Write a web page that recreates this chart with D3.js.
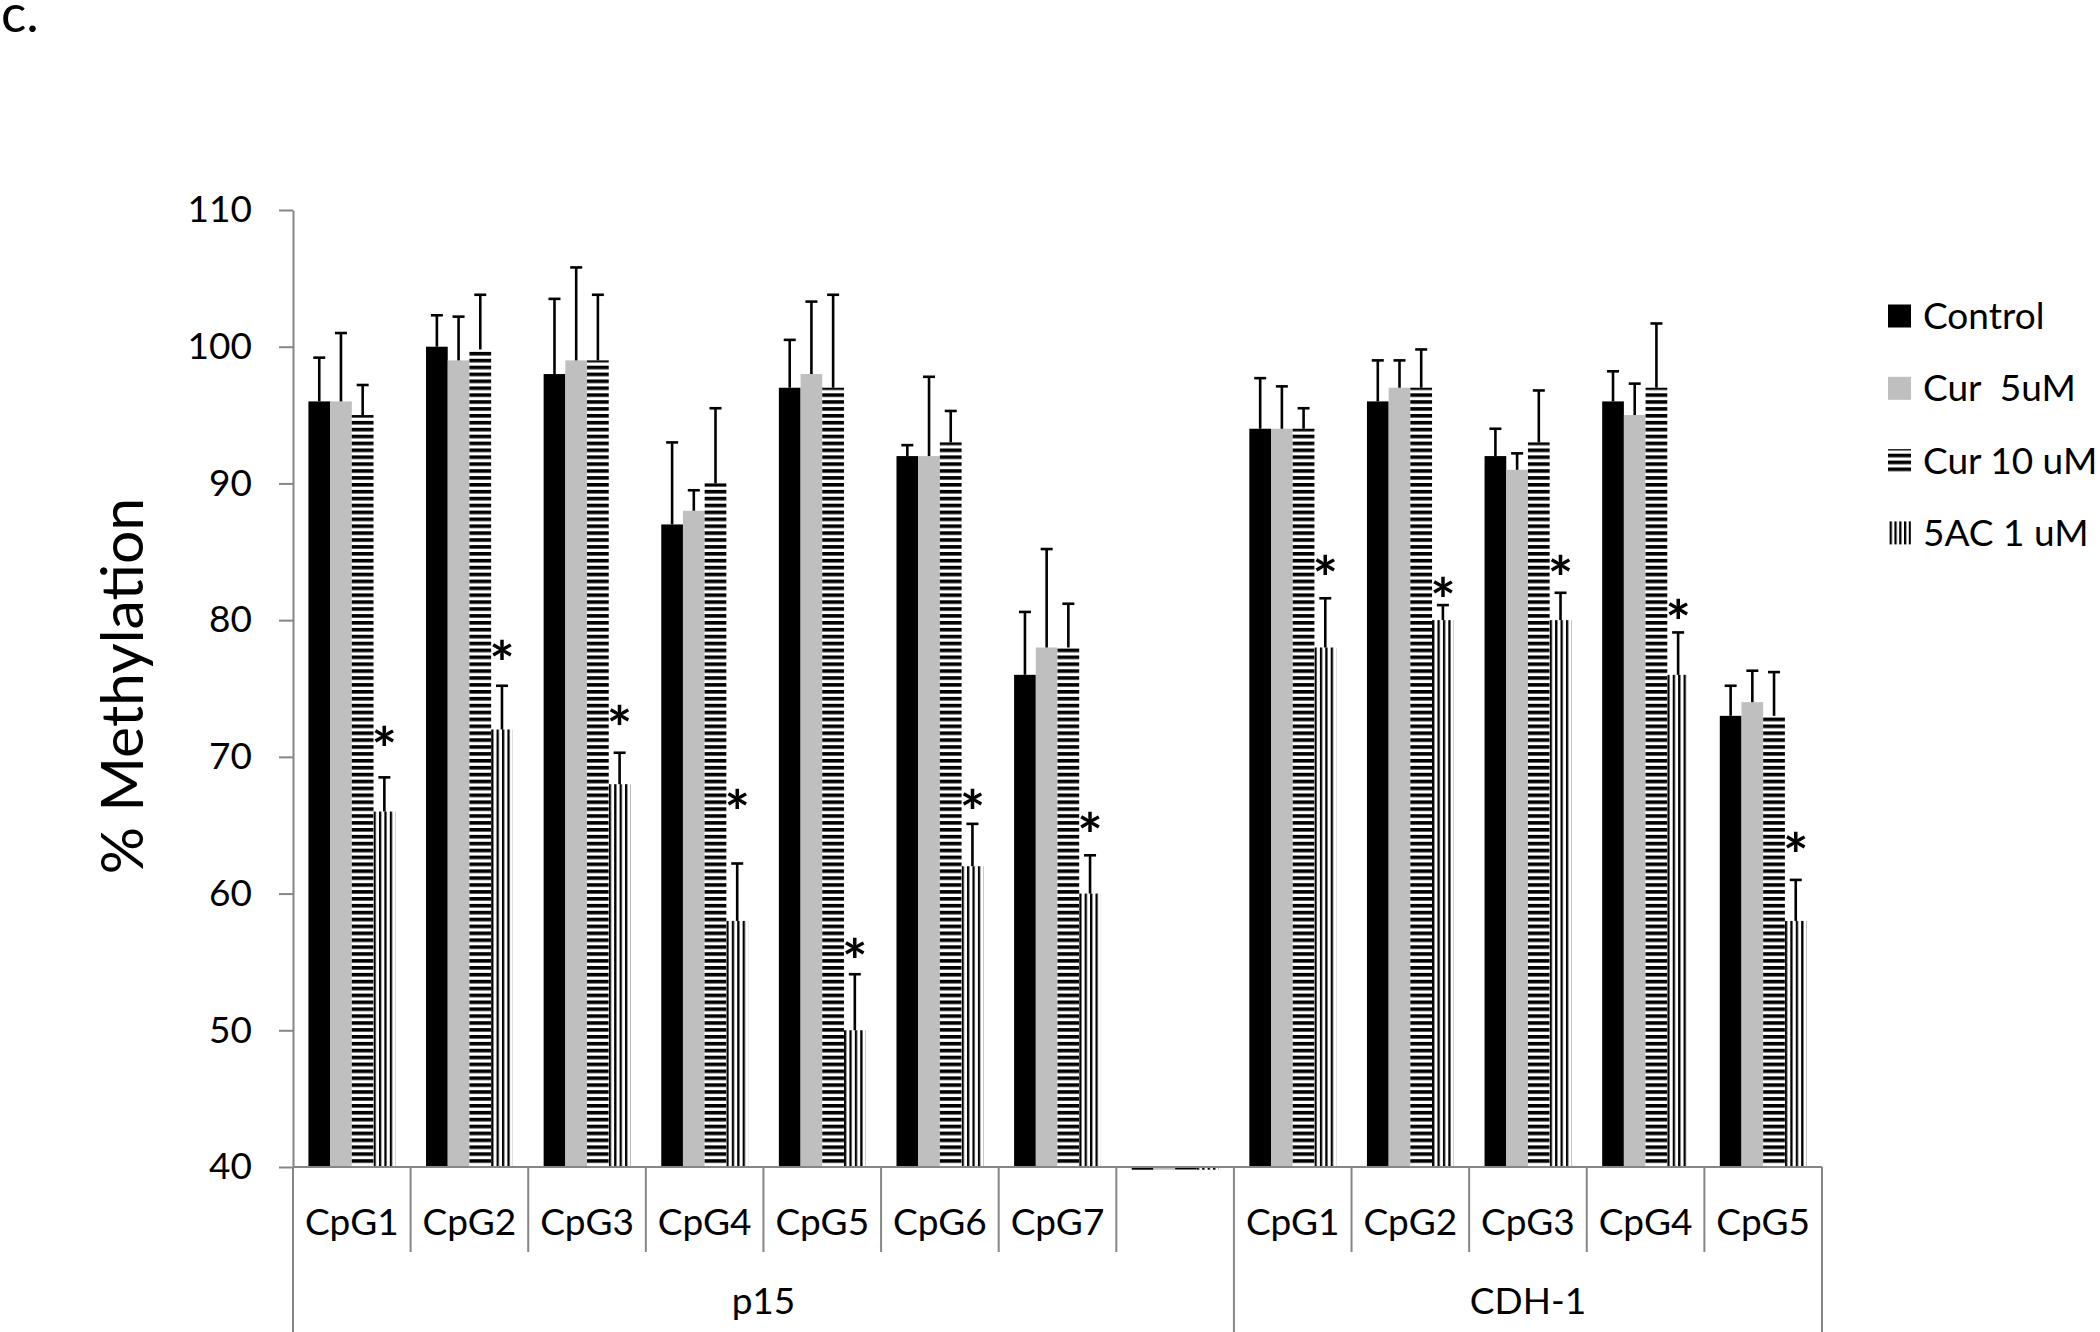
<!DOCTYPE html>
<html>
<head>
<meta charset="utf-8">
<script src="https://cdn.jsdelivr.net/npm/d3@7"></script>
<style>
body { margin: 0; background: #fff; }
text { font-family: Lato, "Open Sans", sans-serif; fill: #000; }
</style>
</head>
<body>
<script>
// categories along the x axis (empty slot between the two genes)
var categories = ["CpG1", "CpG2", "CpG3", "CpG4", "CpG5", "CpG6", "CpG7", "",
                  "CpG1", "CpG2", "CpG3", "CpG4", "CpG5"];
var groupNames = ["p15", "CDH-1"];
var groupSizes = [8, 5];
var seriesNames = ["Control", "Cur  5uM", "Cur 10 uM", "5AC 1 uM"];

// % methylation
var control = [96, 100, 98, 87, 97, 92, 76, 39.8, 94, 96, 92, 96, 73];
var cur5    = [96, 99, 99, 88, 98, 92, 78, 39.8, 94, 97, 91, 95, 74];
var cur10   = [95, 99.8, 99, 90, 97, 93, 78, 39.8, 94, 97, 93, 97, 73];
var ac5     = [66, 72, 68, 58, 50, 62, 60, 39.8, 78, 80, 80, 76, 58];

// upper error bar (SD)
var controlErr = [3.2, 2.3, 5.5, 6.0, 3.5, 0.8, 4.6, 0, 3.7, 3.0, 2.0, 2.2, 2.2];
var cur5Err    = [5.0, 3.2, 6.8, 1.5, 5.3, 5.8, 7.2, 0, 3.1, 2.0, 1.2, 2.3, 2.3];
var cur10Err   = [2.2, 4.0, 4.8, 5.5, 6.8, 2.3, 3.2, 0, 1.5, 2.8, 3.8, 4.7, 3.2];
var ac5Err     = [2.5, 3.2, 2.3, 4.2, 4.1, 3.1, 2.8, 0, 3.6, 1.1, 2.0, 3.1, 3.0];

// where the significance asterisks sit (in % units), null = none
var starAt = [71.4, 77.7, 72.9, 66.8, 55.9, 66.8, 65.1, null, 83.9, 82.3, 83.9, 80.7, 63.6];

var yTicks = [40, 50, 60, 70, 80, 90, 100, 110];

var values = [control, cur5, cur10, ac5];
var errs = [controlErr, cur5Err, cur10Err, ac5Err];

var w = 2100;
var h = 1332;
var margin = {
    top: 210,
    right: 278,
    bottom: 165,
    left: 293
};
var base = h - margin.bottom;

var svg = d3.select("body").append("svg")
    .attr("width", w)
    .attr("height", h);

var defs = svg.append("defs");

// narrow horizontal lines (Cur 10 uM)
var ph = defs.append("pattern")
    .attr("id", "hatchH")
    .attr("patternUnits", "userSpaceOnUse")
    .attr("width", 10)
    .attr("height", 6.9);
ph.append("rect").attr("width", 10).attr("height", 6.9).attr("fill", "#fff");
ph.append("rect").attr("width", 10).attr("height", 3.6).attr("fill", "#000");

// vertical lines (5AC) - one pattern per bar so the stripes start at the bar edge
var vcount = 0;
function vPattern(x0, step) {
    var id = "hatchV" + (vcount++);
    var p = defs.append("pattern")
        .attr("id", id)
        .attr("patternUnits", "userSpaceOnUse")
        .attr("x", x0)
        .attr("width", step)
        .attr("height", 10);
    p.append("rect").attr("width", step).attr("height", 10).attr("fill", "#fff");
    p.append("rect").attr("width", 2.3).attr("height", 10).attr("fill", "#000");
    return "url(#" + id + ")";
}

var x0 = d3.scaleBand()
    .domain(d3.range(categories.length))
    .range([margin.left, w - margin.right])
    .paddingInner(0)
    .paddingOuter(0);

var x1 = d3.scaleBand()
    .domain(d3.range(seriesNames.length))
    .range([0, x0.bandwidth()])
    .paddingInner(0)
    .paddingOuter(0.71);

var y = d3.scaleLinear()
    .domain([40, 110])
    .range([base, margin.top]);

var fills = ["#000", "#bfbfbf", "url(#hatchH)", null];

// bars
var rows = [];
categories.forEach(function(c, i) {
    values.forEach(function(s, j) {
        rows.push({ cat: i, ser: j, v: s[i], e: errs[j][i] });
    });
});

svg.append("g").selectAll("rect")
    .data(rows)
    .enter()
    .append("rect")
    .attr("x", function(d) { return x0(d.cat) + x1(d.ser); })
    .attr("y", function(d) { return Math.min(y(d.v), y(40)); })
    .attr("width", x1.bandwidth())
    .attr("height", function(d) { return Math.abs(y(40) - y(d.v)); })
    .attr("fill", function(d) {
        if (d.ser == 3) return vPattern(x0(d.cat) + x1(d.ser), x1.bandwidth() / 4);
        return fills[d.ser];
    });

// error bars
var eb = svg.append("g")
    .attr("stroke", "#000")
    .attr("stroke-width", 2.6)
    .selectAll("g")
    .data(rows.filter(function(d) { return d.e > 0; }))
    .enter()
    .append("g");

eb.append("line")
    .attr("x1", function(d) { return x0(d.cat) + x1(d.ser) + x1.bandwidth() / 2; })
    .attr("x2", function(d) { return x0(d.cat) + x1(d.ser) + x1.bandwidth() / 2; })
    .attr("y1", function(d) { return y(d.v); })
    .attr("y2", function(d) { return y(d.v + d.e); });
eb.append("line")
    .attr("x1", function(d) { return x0(d.cat) + x1(d.ser) + x1.bandwidth() / 2 - 6; })
    .attr("x2", function(d) { return x0(d.cat) + x1(d.ser) + x1.bandwidth() / 2 + 6; })
    .attr("y1", function(d) { return y(d.v + d.e); })
    .attr("y2", function(d) { return y(d.v + d.e); });

// asterisks
var starSize = 60;
svg.append("g").selectAll("text")
    .data(starAt.map(function(s, i) { return { cat: i, s: s }; })
        .filter(function(d) { return d.s != null; }))
    .enter()
    .append("text")
    .attr("x", function(d) { return x0(d.cat) + x1(3) + x1.bandwidth() / 2; })
    .attr("y", function(d) { return y(d.s) + starSize * 0.55; })
    .attr("text-anchor", "middle")
    .attr("font-size", starSize + "px")
    .attr("font-weight", "bold")
    .text("*");

// y axis
var yAxis = d3.axisLeft(y)
    .tickValues(yTicks)
    .tickSize(14)
    .tickSizeOuter(0)
    .tickPadding(27);

var ga = svg.append("g")
    .attr("transform", "translate(" + margin.left + ",0)")
    .call(yAxis);
ga.selectAll("path, line").attr("stroke", "#868686").attr("stroke-width", 2);
ga.selectAll("text")
    .attr("font-family", "Lato, sans-serif")
    .attr("font-size", "37px")
    .attr("fill", "#000");

// x axis line and category dividers
var gx = svg.append("g").attr("stroke", "#868686").attr("stroke-width", 2);
gx.append("line")
    .attr("x1", x0(0))
    .attr("x2", x0(categories.length - 1) + x0.bandwidth())
    .attr("y1", y(40))
    .attr("y2", y(40));

var groupEdges = [0];
groupSizes.forEach(function(n) { groupEdges.push(groupEdges[groupEdges.length - 1] + n); });

d3.range(categories.length + 1).forEach(function(k) {
    var xx = k < categories.length ? x0(k) : x0(k - 1) + x0.bandwidth();
    var long = groupEdges.indexOf(k) >= 0;
    gx.append("line")
        .attr("x1", xx).attr("x2", xx)
        .attr("y1", y(40))
        .attr("y2", long ? h : base + 85);
});

svg.append("g").selectAll("text")
    .data(categories)
    .enter()
    .append("text")
    .attr("x", function(d, i) { return x0(i) + x0.bandwidth() / 2; })
    .attr("y", base + 68)
    .attr("text-anchor", "middle")
    .attr("font-size", "37px")
    .text(function(d) { return d; });

svg.append("g").selectAll("text")
    .data(groupNames)
    .enter()
    .append("text")
    .attr("x", function(d, i) {
        var a = x0(groupEdges[i]);
        var b = x0(groupEdges[i + 1] - 1) + x0.bandwidth();
        return (a + b) / 2;
    })
    .attr("y", base + 147)
    .attr("text-anchor", "middle")
    .attr("font-size", "37px")
    .text(function(d) { return d; });

// y axis title
svg.append("text")
    .attr("transform", "translate(143,686) rotate(-90)")
    .attr("text-anchor", "middle")
    .attr("font-size", "59px")
    .text("% Methylation");

// panel letter
svg.append("text")
    .attr("x", 1)
    .attr("y", 32)
    .attr("font-size", "53px")
    .text("c.");

// legend
var leg = svg.append("g").selectAll("g")
    .data(seriesNames)
    .enter()
    .append("g")
    .attr("transform", function(d, i) { return "translate(1888," + (316 + i * 72.3) + ")"; });

leg.append("rect")
    .attr("x", 0)
    .attr("y", -11.5)
    .attr("width", 23)
    .attr("height", 23)
    .attr("fill", function(d, i) {
        if (i == 3) return vPattern(1888, 4.8);
        return fills[i];
    });

leg.append("text")
    .attr("x", 35)
    .attr("y", 13)
    .attr("font-size", "37px")
    .attr("xml:space", "preserve")
    .style("white-space", "pre")
    .text(function(d) { return d; });
</script>
</body>
</html>
